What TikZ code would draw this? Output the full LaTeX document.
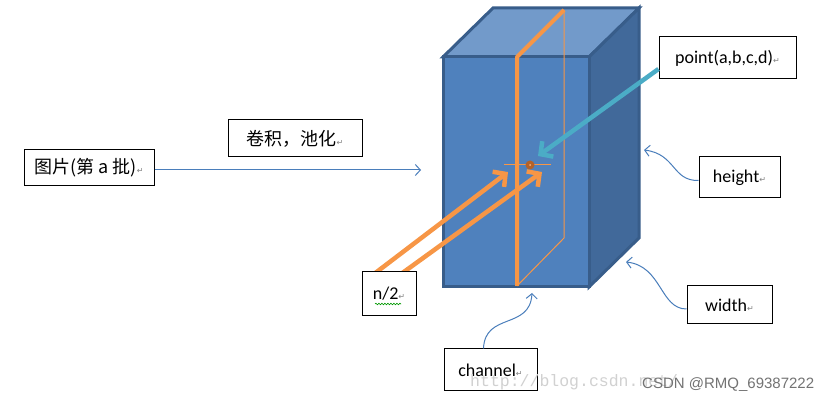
\documentclass[tikz,border=0pt]{standalone}
\usepackage{fontspec}
\setmainfont{Carlito}
\newfontfamily\cjkfont{Noto Sans CJK SC}
\newfontfamily\symfont{DejaVu Sans}
\newfontfamily\wmmono{Liberation Mono}
\newfontfamily\wmsans{Liberation Sans}
\usetikzlibrary{arrows.meta,decorations.pathmorphing}
\definecolor{cubeface}{HTML}{4F81BD}
\definecolor{cubetop}{HTML}{729ACA}
\definecolor{cubeside}{HTML}{41699A}
\definecolor{cubeedge}{HTML}{385D8A}
\definecolor{plane}{HTML}{F79646}
\definecolor{tealarr}{HTML}{4BACC6}
\definecolor{thinblue}{HTML}{4A7EBB}
\definecolor{dotbrown}{HTML}{B4622A}
\newcommand\retmark{{\symfont\fontsize{8}{8}\selectfont\textcolor{gray}{↵}}}
\tikzset{
  labelbox/.style={draw=black, line width=1pt, fill=white, inner sep=0pt,
    font=\fontsize{18}{20}\selectfont},
  thinarrow/.style={draw=thinblue, line width=1pt, -{Straight Barb[length=5pt,width=11pt]}},
  orangearrow/.style={draw=plane, line width=4.5pt, -{Straight Barb[length=9pt,width=19pt]}},
  tealarrow/.style={draw=tealarr, line width=4.5pt, -{Straight Barb[length=9pt,width=19pt]}},
  cubepart/.style={draw=cubeedge, line width=3pt, line join=miter},
}
\begin{document}
\begin{tikzpicture}[x=1pt,y=-1pt]
\useasboundingbox (0,0) rectangle (831,403);
\fill[white] (0,0) rectangle (831,403);

% cube corners
\coordinate (F1) at (443,57);
\coordinate (F2) at (589,57);
\coordinate (F3) at (589,287);
\coordinate (F4) at (443,287);
\coordinate (B1) at (493,8);
\coordinate (B2) at (639,8);
\coordinate (B3) at (639,238);
\filldraw[cubepart, fill=cubetop] (F1) -- (B1) -- (B2) -- (F2) -- cycle;
\filldraw[cubepart, fill=cubeside] (F2) -- (B2) -- (B3) -- (F3) -- cycle;
\filldraw[cubepart, fill=cubeface] (F1) -- (F2) -- (F3) -- (F4) -- cycle;

% orange plane
\coordinate (P1) at (517,57);
\coordinate (P2) at (517,286);
\coordinate (P3) at (564,10);
\coordinate (P4) at (564,238);
\draw[plane, line width=1pt] (P3) -- (P4) -- (P2);
\draw[plane, line width=4pt, line join=round] (P2) -- (P1) -- (P3);

% point marker
\coordinate (X1) at (504,165);
\coordinate (X2) at (551,165);
\draw[plane, line width=1pt] (X1) -- (X2);
\node[circle, fill=dotbrown, minimum size=9pt, inner sep=0pt] (dot) at (530,165) {};
\fill[plane!70!white] (dot.center) circle (1pt);

% arrows drawn before the boxes so the boxes cover their ends
\coordinate (o1tip) at (508,172);
\coordinate (o2tip) at (542,172);
\coordinate (o1s) at (374,274);
\coordinate (o2s) at (401,274);
\draw[orangearrow] (o1s) -- (o1tip);
\draw[orangearrow] (o2s) -- (o2tip);

% label boxes
\node[labelbox, minimum width=130pt, minimum height=36pt] (img) at (89,168)
  {\cjkfont 图片(第 a 批)\retmark};
\node[labelbox, minimum width=134pt, minimum height=37pt] (conv) at (295,138.5)
  {\cjkfont 卷积，池化\retmark};
\node[labelbox, minimum width=137pt, minimum height=42pt] (pt) at (727.5,58)
  {point(a,b,c,d)\retmark};
\node[labelbox, minimum width=81pt, minimum height=41pt] (hgt) at (739.5,177.5)
  {height\retmark};
\node[labelbox, minimum width=85pt, minimum height=38pt] (wid) at (729.5,305)
  {width\retmark};
\node[labelbox, minimum width=54pt, minimum height=44pt] (n2) at (389,294)
  {n/2\retmark};
\node[labelbox, minimum width=93pt, minimum height=42pt] (chan) at (490.5,370)
  {channel\retmark};

% spell-check underline under n/2
\draw[green!60!black, line width=0.6pt, decorate,
  decoration={snake, amplitude=0.8pt, segment length=3pt}]
  ([xshift=-14pt,yshift=-10pt]n2.center) -- ([xshift=12pt,yshift=-10pt]n2.center);

% other arrows
\coordinate (imgtip) at (421,170);
\draw[thinarrow] (img.east |- imgtip) -- (imgtip);

\coordinate (ttip) at (538,156);
\draw[tealarrow] ([yshift=-11pt]pt.west) -- (ttip);

\coordinate (htip) at (644,150);
\draw[thinarrow] ([yshift=-3pt]hgt.west) .. controls (672,181) and (676,154) .. (htip);
\coordinate (wtip) at (626,262);
\draw[thinarrow] ([yshift=-4pt]wid.west) .. controls (660,309) and (662,266) .. (wtip);
\coordinate (ctip) at (532,293);
\draw[thinarrow] ([xshift=-7pt]chan.north) .. controls (485,312) and (530,330) .. (ctip);

% watermarks
\node[anchor=base west, inner sep=0pt, text=black!18,
  font=\wmmono\fontsize{16.5}{16.5}\selectfont] (wm1) at (470,387) {http://blog.csdn.net/};
\node[anchor=base west, inner sep=0pt, text=black!55,
  font=\wmsans\fontsize{15}{15}\selectfont] (wm2) at (642,389) {CSDN @RMQ\_69387222};
\end{tikzpicture}
\end{document}
